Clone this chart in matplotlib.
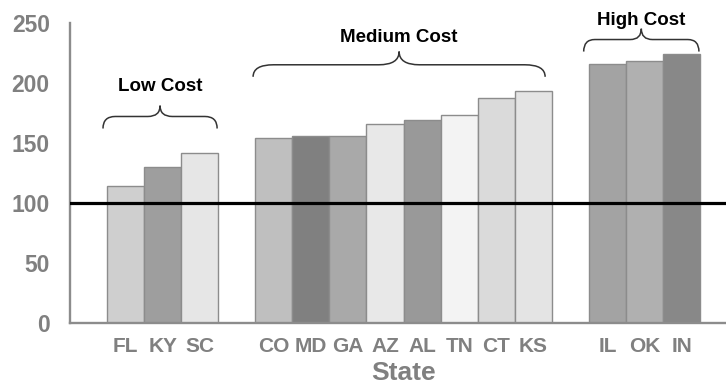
import matplotlib
matplotlib.use("Agg")
import matplotlib.pyplot as plt
from matplotlib.path import Path
from matplotlib.patches import PathPatch

# Cost index by state, grouped by cost tier
group_names = ["Low Cost", "Medium Cost", "High Cost"]
group_states = [
    ["FL", "KY", "SC"],
    ["CO", "MD", "GA", "AZ", "AL", "TN", "CT", "KS"],
    ["IL", "OK", "IN"],
]
group_values = [
    [114, 130, 142],
    [154, 156, 156, 166, 169, 173, 187, 193],
    [216, 218, 224],
]
baseline = 100
y_ticks = [0, 50, 100, 150, 200, 250]

bar_colors = [
    ["#cfcfcf", "#9e9e9e", "#e6e6e6"],
    ["#bfbfbf", "#808080", "#a9a9a9", "#e8e8e8", "#999999", "#f3f3f3", "#dadada", "#e4e4e4"],
    ["#a3a3a3", "#b0b0b0", "#888888"],
]

plt.rcParams["font.family"] = ["Liberation Sans", "DejaVu Sans"]

fig = plt.figure(figsize=(7.26, 3.88), dpi=100)
ax = fig.add_axes([70 / 726, 1 - 323.3 / 388, 656 / 726, (323.3 - 22.7) / 388])

# one empty slot before each group
positions, labels, values, colors = [], [], [], []
slot = 0
group_spans = []
for states, vals, cols in zip(group_states, group_values, bar_colors):
    slot += 1
    start = slot
    for s, v, c in zip(states, vals, cols):
        positions.append(slot)
        labels.append(s)
        values.append(v)
        colors.append(c)
        slot += 1
    group_spans.append((start, slot - 1))

ax.bar(positions, values, width=1.0, color=colors, edgecolor="#8c8c8c",
       linewidth=1.0, zorder=2)
ax.axhline(baseline, color="black", lw=2.3, zorder=3)

ax.set_xlim(-0.5, 17.2)
ax.set_ylim(0, 250)
ax.set_yticks(y_ticks)
ax.set_xticks(positions)
ax.set_xticklabels(labels)
ax.tick_params(axis="y", length=0, pad=14.5, labelsize=16.5, labelcolor="#808080")
ax.tick_params(axis="x", length=0, pad=10, labelsize=15, labelcolor="#808080")
for lab in ax.get_xticklabels() + ax.get_yticklabels():
    lab.set_fontweight("bold")

for side in ("top", "right"):
    ax.spines[side].set_visible(False)
for side in ("left", "bottom"):
    ax.spines[side].set_color("#8c8c8c")
    ax.spines[side].set_linewidth(1.7)

fig.text(404 / 726, 1 - 373 / 388, "State", ha="center", va="center",
         fontsize=19, fontweight="bold", color="#808080")


def brace(x0, x1, y_end, y_line, y_tip, r):
    xm = (x0 + x1) / 2
    verts = [(x0, y_end), (x0, y_line), (x0 + r, y_line),
             (xm - r, y_line),
             (xm, y_line), (xm, y_tip),
             (xm, y_line), (xm + r, y_line),
             (x1 - r, y_line),
             (x1, y_line), (x1, y_end)]
    codes = [Path.MOVETO, Path.CURVE3, Path.CURVE3,
             Path.LINETO,
             Path.CURVE3, Path.CURVE3,
             Path.CURVE3, Path.CURVE3,
             Path.LINETO,
             Path.CURVE3, Path.CURVE3]
    ax.add_patch(PathPatch(Path(verts, codes), facecolor="none",
                           edgecolor="#333333", lw=1.1, clip_on=False, zorder=4))
    return xm


# brace geometry per group: (left inset, right inset, end, line, tip, curl, label y)
brace_layout = [
    (0.11, 0.03, 162, 172, 181, 0.33, 197),
    (0.06, 0.18, 205, 215, 226, 0.55, 238),
    (0.14, 0.03, 226, 236, 245, 0.30, 251.5),
]
for name, (a, b), (li, ri, ye, yl, yt, r, ty) in zip(group_names, group_spans, brace_layout):
    xm = brace(a - 0.5 - li, b + 0.5 - ri, ye, yl, yt, r)
    ax.text(xm, ty, name, ha="center", va="center", fontsize=13.5,
            fontweight="bold", color="black", clip_on=False)

fig.savefig("out.png", dpi=100)
